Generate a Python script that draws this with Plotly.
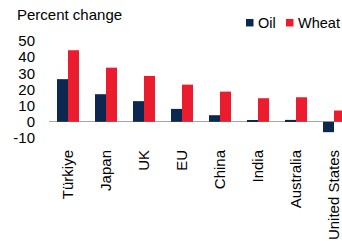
import plotly.graph_objects as go

categories = ["Türkiye", "Japan", "UK", "EU", "China", "India", "Australia", "United States"]
oil = [26.4, 17.1, 12.8, 8.0, 4.1, 0.8, 1.2, -6.4]
wheat = [44.3, 33.5, 28.4, 23.0, 18.7, 14.6, 15.2, 7.0]
y_ticks = [-10, 0, 10, 20, 30, 40, 50]
y_tick_labels = [str(v) for v in y_ticks]  # plain hyphen minus, as in the original
series_names = ["Oil", "Wheat"]

NAVY = "#0c2850"
RED = "#ec1c2f"
FONT = "Liberation Sans, Arial, sans-serif"

W, H = 342, 241
plot_left, plot_top, plot_bottom = 49, 41, 138
pw = W - plot_left
ph = plot_bottom - plot_top

fig = go.Figure()
fig.add_trace(go.Bar(name=series_names[0], x=categories, y=oil, marker=dict(color=NAVY, line=dict(width=0))))
fig.add_trace(go.Bar(name=series_names[1], x=categories, y=wheat, marker=dict(color=RED, line=dict(width=0))))

# compact key (squares + labels) like the original
legend_items = [(series_names[0], NAVY, 246, 257), (series_names[1], RED, 286, 297)]
key_y_center = 22.7
shapes, annotations = [], []
for name, col, sx, tx in legend_items:
    shapes.append(dict(type="rect", xref="paper", yref="paper",
                       x0=(sx - plot_left) / pw, x1=(sx + 7.5 - plot_left) / pw,
                       y0=(plot_bottom - (key_y_center + 3.75)) / ph,
                       y1=(plot_bottom - (key_y_center - 3.75)) / ph,
                       fillcolor=col, line=dict(width=0), layer="above"))
    annotations.append(dict(text=name, xref="paper", yref="paper", showarrow=False,
                            x=(tx - plot_left) / pw, xanchor="left", borderpad=0,
                            y=(plot_bottom - key_y_center) / ph, yanchor="middle",
                            font=dict(size=14.5, family=FONT, color="#000000")))

fig.update_layout(
    width=W, height=H,
    margin=dict(l=plot_left, r=0, t=plot_top, b=H - plot_bottom, pad=0, autoexpand=False),
    paper_bgcolor="white", plot_bgcolor="white",
    font=dict(family=FONT, size=15, color="#000000"),
    barmode="group", bargap=0.42, bargroupgap=0,
    showlegend=False, hovermode=False,
    shapes=shapes, annotations=annotations,
    title=dict(text="Percent change", x=17 / W, xanchor="left", xref="container",
               y=1 - 14.5 / H, yanchor="middle", yref="container",
               font=dict(size=15, family=FONT, color="#000000")),
)

fig.update_xaxes(range=[-0.5, 7.21], showgrid=False, showline=False, ticks="",
                 tickangle=-90, tickfont=dict(size=15), ticklabelstandoff=8)
fig.update_yaxes(range=[-10, 50], tickvals=y_ticks, ticktext=y_tick_labels,
                 showgrid=False, showline=False, ticks="",
                 zeroline=True, zerolinecolor="#a6a6a6", zerolinewidth=1.3,
                 tickfont=dict(size=15), ticklabelstandoff=13)

# remove the default 8px page margin so the figure sits at the window's top-left corner
fig.write_html("out.html", config={"displayModeBar": False},
               post_script="document.body.style.margin='0px';")
